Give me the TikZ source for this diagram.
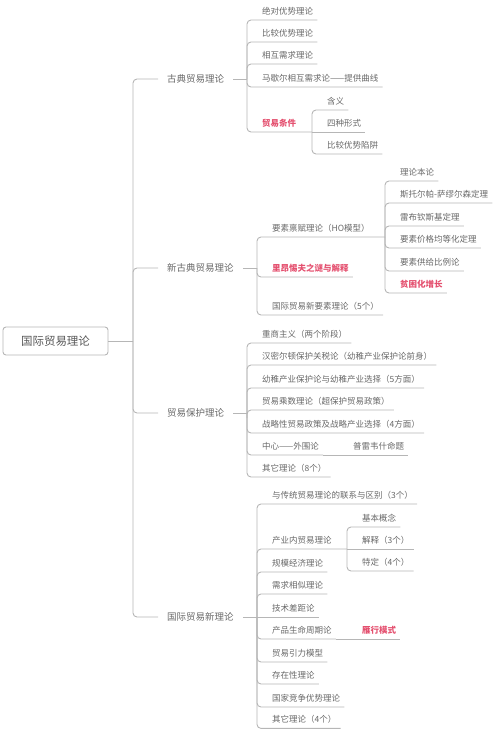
\documentclass[tikz,border=0pt]{standalone}
\usepackage{fontspec}
\newfontfamily\cjk{Noto Sans CJK SC}
\usetikzlibrary{calc}
\definecolor{linegray}{HTML}{B6B6B6}
\definecolor{textgray}{HTML}{686868}
\definecolor{rootgray}{HTML}{585858}
\definecolor{hotred}{HTML}{E4506F}
\begin{document}
\begin{tikzpicture}[x=1pt,y=-1pt,
  conn/.style={draw=linegray, line width=0.9pt, rounded corners=4pt},
  leaf/.style={anchor=south west, inner xsep=4pt, inner ysep=0pt, text depth=5.8pt,
    font=\cjk\fontsize{8.5}{10}\selectfont, text=textgray},
  hot/.style={leaf, text=hotred, font=\cjk\bfseries\fontsize{8.5}{10}\selectfont},
  topic/.style={anchor=west, inner xsep=9pt, inner ysep=2pt,
    font=\cjk\fontsize{9.5}{11}\selectfont, text=textgray},
  rootbox/.style={draw=linegray, rounded corners=3pt, line width=0.9pt,
    minimum width=105pt, minimum height=28pt, inner sep=0pt,
    font=\cjk\fontsize{11.5}{13}\selectfont, text=rootgray}]
\useasboundingbox (0,0) rectangle (500,729);

% root
\node[rootbox] (root) at (55.5,341) {国际贸易理论};
\coordinate (rj) at (133,341);

% level 1
\node[topic] (t1) at (158,79) {古典贸易理论};
\node[topic] (t2) at (158,268) {新古典贸易理论};
\node[topic] (t3) at (158,413) {贸易保护理论};
\node[topic] (t4) at (158,617) {国际贸易新理论};

\draw[conn] (root.east) -- (rj);
\foreach \t in {t1,t2,t3,t4} \draw[conn] (rj) |- (\t.west);

% ---------- 古典贸易理论
\coordinate (j1) at (247,79);
\node[leaf] (a1) at (258,20) {绝对优势理论};
\node[leaf] (a2) at (258,42) {比较优势理论};
\node[leaf] (a3) at (258,64) {相互需求理论};
\node[leaf] (a4) at (258,87) {马歇尔相互需求论——提供曲线};
\node[hot]  (a5) at (258,132) {贸易条件};
\coordinate (a5j) at (312,132);
\node[leaf] (a51) at (323,110) {含义};
\node[leaf] (a52) at (323,132) {四种形式};
\node[leaf] (a53) at (323,154) {比较优势陷阱};
\draw[conn] (t1.east) -- (j1);
\foreach \n in {a1,a2,a3,a4} \draw[conn] (j1) |- (\n.south east);
\draw[conn] (j1) |- (a5j);
\draw[conn] (a5j) |- (a51.south east);
\draw[conn] (a5j) -- (a52.south east);
\draw[conn] (a5j) |- (a53.south east);

% ---------- 新古典贸易理论
\coordinate (j2) at (257,268);
\node[leaf] (b1) at (268,237) {要素禀赋理论（HO模型）};
\coordinate (b1j) at (385,237);
\node[leaf] (b11) at (396,181) {理论本论};
\node[leaf] (b12) at (396,203) {斯托尔帕-萨缪尔森定理};
\node[leaf] (b13) at (396,226) {雷布钦斯基定理};
\node[leaf] (b14) at (396,248) {要素价格均等化定理};
\node[leaf] (b15) at (396,271) {要素供给比例论};
\node[hot]  (b16) at (396,293) {贫困化增长};
\node[hot]  (b2) at (268,277) {里昂惕夫之谜与解释};
\node[leaf] (b3) at (268,315) {国际贸易新要素理论（5个）};
\draw[conn] (t2.east) -- (j2);
\draw[conn] (j2) |- (b1j);
\draw[conn] (j2) |- (b2.south east);
\draw[conn] (j2) |- (b3.south east);
\foreach \n in {b11,b12,b13,b14,b15,b16} \draw[conn] (b1j) |- (\n.south east);

% ---------- 贸易保护理论
\coordinate (j3) at (247,413);
\node[leaf] (c1) at (258,343) {重商主义（两个阶段）};
\node[leaf] (c2) at (258,365) {汉密尔顿保护关税论（幼稚产业保护论前身）};
\node[leaf] (c3) at (258,388) {幼稚产业保护论与幼稚产业选择（5方面）};
\node[leaf] (c4) at (258,410) {贸易乘数理论（超保护贸易政策）};
\node[leaf] (c5) at (258,433) {战略性贸易政策及战略产业选择（4方面）};
\node[leaf] (c6) at (258,455) {中心——外围论};
\node[leaf] (c61) at (349,455) {普雷韦什命题};
\node[leaf] (c7) at (258,477) {其它理论（8个）};
\coordinate (c4s) at (247,418);
\draw[conn] (t3.east) -- (j3);
\foreach \n in {c1,c2,c3,c5,c6,c7} \draw[conn] (j3) |- (\n.south east);
\draw[conn] (c4s) |- (c4.south east);
\draw[conn] (c6.south east) -- (c61.south east);

% ---------- 国际贸易新理论
\coordinate (j4) at (257,617);
\node[leaf] (d1) at (268,504) {与传统贸易理论的联系与区别（3个）};
\node[leaf] (d2) at (268,549) {产业内贸易理论};
\coordinate (d2j) at (347,549);
\node[leaf] (d21) at (358,527) {基本概念};
\node[leaf] (d22) at (358,549) {解释（3个）};
\node[leaf] (d23) at (358,571) {特定（4个）};
\node[leaf] (d3) at (268,572) {规模经济理论};
\node[leaf] (d4) at (268,594) {需求相似理论};
\node[leaf] (d5) at (268,617) {技术差距论};
\node[leaf] (d6) at (268,639) {产品生命周期论};
\node[hot]  (d61) at (358,639) {雁行模式};
\node[leaf] (d7) at (268,662) {贸易引力模型};
\node[leaf] (d8) at (268,684) {存在性理论};
\node[leaf] (d9) at (268,707) {国家竞争优势理论};
\node[leaf] (d10) at (268,728.4) {其它理论（4个）};
\draw[conn] (t4.east) -- (j4);
\foreach \n in {d1,d3,d4,d6,d7,d8,d9,d10} \draw[conn] (j4) |- (\n.south east);
\draw[conn] (j4) |- (d2j);
\draw[conn] (j4) -- (d5.south east);
\draw[conn] (d2j) |- (d21.south east);
\draw[conn] (d2j) -- (d22.south east);
\draw[conn] (d2j) |- (d23.south east);
\draw[conn] (d6.south east) -- (d61.south east);
\end{tikzpicture}
\end{document}
